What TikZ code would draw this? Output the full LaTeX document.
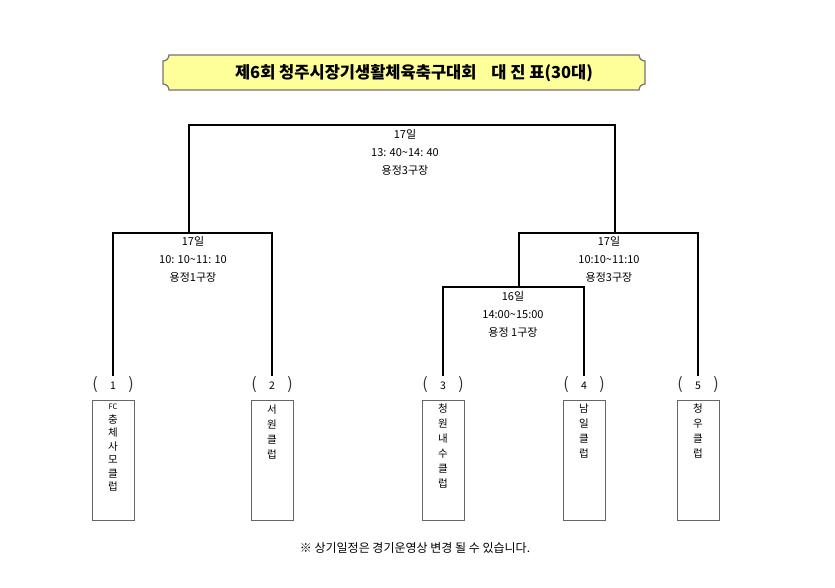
\documentclass[tikz,border=0pt]{standalone}
\usepackage{fontspec}
\setmainfont{Noto Sans CJK KR}
\definecolor{titley}{RGB}{255,255,153}
\begin{document}
\begin{tikzpicture}[x=1pt,y=-1pt,
  bracket/.style={line width=1.8pt, black},
  mlabel/.style={font=\fontsize{11}{18}\selectfont, align=center, inner sep=0pt, anchor=north},
  teambox/.style={draw=black!60, line width=0.8pt, minimum width=42pt, minimum height=120pt, inner sep=0pt, anchor=north},
  teamtext/.style={font=\fontsize{10.5}{15}\selectfont, align=center, inner sep=0pt, anchor=north},
  seed/.style={font=\fontsize{10.5}{11}\selectfont, minimum height=20pt, inner sep=0pt},
  paren/.style={font=\fontsize{16}{16}\selectfont, inner sep=0pt, text=black!80}
]
\useasboundingbox (0,0) rectangle (835,588);

% title plaque
\path[draw=black!55, line width=1.2pt, fill=titley]
  (169,55) -- (639,55) .. controls (639,58.3) and (641.7,61) .. (645,61)
  -- (645,84) .. controls (641.7,84) and (639,86.7) .. (639,90)
  -- (169,90) .. controls (169,86.7) and (166.3,84) .. (163,84)
  -- (163,61) .. controls (166.3,61) and (169,58.3) .. (169,55) -- cycle;
\node[font=\fontsize{16.5}{16.5}\selectfont\bfseries, inner sep=0pt] (title) at (414,73)
  {제6회 청주시장기생활체육축구대회\hspace{0.9em}대 진 표(30대)};

% team boxes
\node[teambox] (b1) at (113,400) {};
\node[teambox] (b2) at (272,400) {};
\node[teambox] (b3) at (443,400) {};
\node[teambox] (b4) at (584,400) {};
\node[teambox] (b5) at (698,400) {};

\node[teamtext, font=\fontsize{10.5}{13.5}\selectfont] (t1) at (113,404)
  {{\fontsize{7.5}{8}\selectfont FC}\\충\\체\\사\\모\\클\\럽};
\node[teamtext] (t2) at (272,405) {서\\원\\클\\럽};
\node[teamtext] (t3) at (443,404) {청\\원\\내\\수\\클\\럽};
\node[teamtext] (t4) at (584,404) {남\\일\\클\\럽};
\node[teamtext] (t5) at (698,404) {청\\우\\클\\럽};

% seeds
\node[seed] (s1) at (113,386) {1};
\node[seed] (s2) at (272,386) {2};
\node[seed] (s3) at (443,386) {3};
\node[seed] (s4) at (584,386) {4};
\node[seed] (s5) at (698,386) {5};
\node[paren] (s1l) at (95,385) {(};  \node[paren] (s1r) at (131,385) {)};
\node[paren] (s2l) at (254,385) {(}; \node[paren] (s2r) at (290,385) {)};
\node[paren] (s3l) at (425,385) {(}; \node[paren] (s3r) at (461,385) {)};
\node[paren] (s4l) at (566,385) {(}; \node[paren] (s4r) at (602,385) {)};
\node[paren] (s5l) at (680,385) {(}; \node[paren] (s5r) at (716,385) {)};

% brackets
\coordinate (mL) at (193.5,233);
\draw[bracket] (s1.north) |- (mL) -| (s2.north);
\coordinate (mS) at (513,287);
\draw[bracket] (s3.north) |- (mS) -| (s4.north);
\coordinate (mSu) at (519,287);
\coordinate (mR) at (608.5,233);
\draw[bracket] (mSu) |- (mR) -| (s5.north);
\coordinate (tL) at (189,233);
\coordinate (tR) at (615,233);
\coordinate (mT) at (402,125);
\draw[bracket] (tL) |- (mT) -| (tR);

% match labels
\node[mlabel] (lT) at (405,129) {17일\\13: 40\textasciitilde14: 40\\용정3구장};
\node[mlabel] (lL) at (193,236) {17일\\10: 10\textasciitilde11: 10\\용정1구장};
\node[mlabel] (lR) at (609,236) {17일\\10:10\textasciitilde11:10\\용정3구장};
\node[mlabel] (lS) at (513,291) {16일\\14:00\textasciitilde15:00\\용정 1구장};

% note
\node[font=\fontsize{12}{14}\selectfont, inner sep=0pt] (note) at (415,548)
  {※ 상기일정은 경기운영상 변경 될 수 있습니다.};
\end{tikzpicture}
\end{document}
